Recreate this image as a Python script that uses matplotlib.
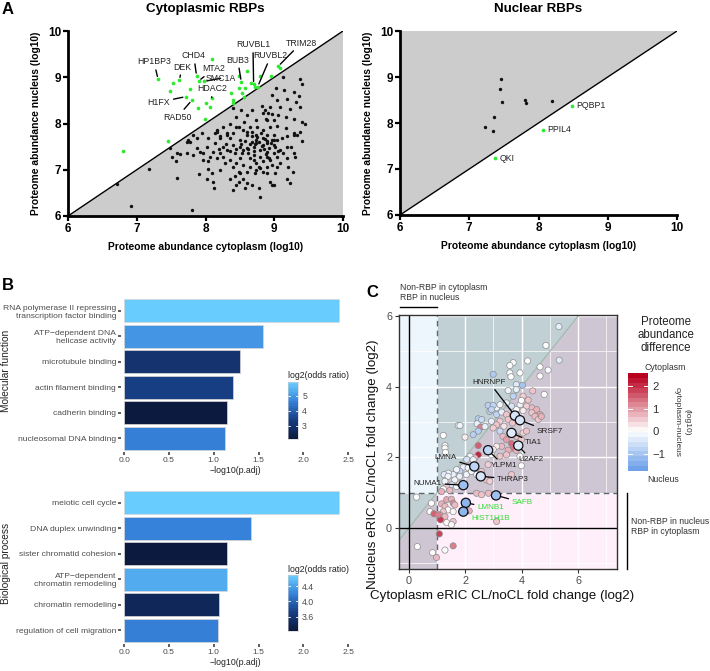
import numpy as np
import matplotlib
matplotlib.use("Agg")
import matplotlib.pyplot as plt
from matplotlib.colors import LinearSegmentedColormap, Normalize
from matplotlib.patches import Polygon, Rectangle
from matplotlib.lines import Line2D

plt.rcParams['font.family'] = ['Liberation Sans', 'DejaVu Sans']

# ------------------------------------------------------------------ data
# Panel A - cytoplasmic RBPs (log10 abundance): cytoplasm x, nucleus y
cyto_x = [9.45, 9.28, 9.33, 9.40, 9.18, 9.25, 9.13, 9.04, 9.18, 9.30, 9.08, 9.01, 8.89, 8.96, 8.84,
          8.74, 8.67, 8.60, 8.55, 8.45, 8.40, 8.50, 8.36, 8.31, 8.21, 8.16, 8.14, 8.26, 8.40, 8.50,
          8.60, 8.70, 8.79, 8.89, 8.99, 8.94, 8.84, 8.74, 8.65, 8.55, 8.45, 8.36, 8.26, 8.21, 8.11,
          8.07, 7.97, 8.02, 7.92, 7.87, 7.82, 7.75, 7.77, 7.63, 7.58, 7.57, 7.48, 7.18, 7.58, 7.90,
          8.04, 8.09, 8.02, 8.11, 8.13, 8.36, 8.43, 8.50, 8.48, 8.45, 8.40, 8.55, 8.60, 8.57, 8.67,
          8.72, 8.74, 8.79, 8.89, 8.96, 9.04, 9.01, 8.89, 8.84, 8.78, 8.79, 8.94, 8.96, 8.99, 9.18,
          9.23, 9.27, 6.92, 7.80, 7.82, 7.95, 7.97, 8.04, 8.16, 8.28, 8.31, 8.43, 8.53, 8.62, 8.70,
          8.79, 8.89, 8.99, 8.84, 8.74, 8.67, 9.04, 9.11, 9.18, 9.28, 9.20, 9.08, 8.70, 8.40, 8.21,
          7.73, 7.73, 6.71, 7.51,
          9.13, 9.37, 9.41, 9.02, 9.14, 9.28, 8.96, 9.04, 9.19, 9.32, 9.37, 9.36, 9.08, 9.23, 8.94,
          8.82, 8.84, 8.96, 9.06, 9.17, 9.28, 9.40, 8.90, 8.74, 8.60, 8.67, 8.51, 8.40, 8.45, 8.56,
          8.65, 8.75, 8.84, 8.94, 9.04, 9.17, 9.28, 9.37, 8.60, 8.48, 8.36, 8.26, 8.16, 8.14, 8.31,
          8.21, 8.04, 7.87, 8.74, 8.89, 8.99, 8.88, 8.91, 8.87, 8.99,
          8.78, 8.82, 8.86, 8.92, 8.70, 8.65, 8.75, 8.80, 8.90, 8.58, 8.62, 8.88, 8.95, 8.85, 8.72,
          8.68, 8.52, 8.55, 9.05, 9.00, 8.45, 8.35, 8.30, 8.20, 8.92, 8.65, 8.50, 8.78, 8.60, 8.48]
cyto_y = [7.98, 7.75, 7.75, 7.62, 7.50, 7.50, 7.36, 7.28, 7.25, 7.27, 7.43, 7.50, 7.57, 7.64, 7.68,
          7.64, 7.72, 7.75, 7.86, 7.93, 7.79, 7.64, 7.68, 7.79, 7.72, 7.82, 7.57, 7.50, 7.54, 7.50,
          7.46, 7.50, 7.43, 7.39, 7.36, 7.21, 7.18, 7.14, 7.07, 7.10, 7.14, 7.21, 7.28, 7.36, 7.39,
          7.28, 7.36, 7.50, 7.39, 7.46, 7.32, 7.64, 7.61, 7.34, 7.36, 7.18, 7.46, 7.02, 6.83, 6.91,
          7.02, 6.92, 6.79, 6.73, 6.60, 6.81, 6.87, 6.92, 6.74, 6.67, 6.56, 6.81, 6.71, 6.60, 6.67,
          6.92, 7.00, 7.03, 7.07, 7.10, 7.07, 6.92, 6.92, 6.96, 6.60, 6.42, 6.74, 6.67, 6.67, 6.79,
          6.71, 6.96, 6.22, 6.13, 7.75, 7.79, 7.21, 7.18, 7.25, 7.14, 7.43, 7.36, 7.36, 7.36, 7.32,
          7.28, 7.28, 7.54, 7.54, 7.57, 7.61, 7.64, 7.68, 7.72, 7.36, 7.07, 7.14, 7.21, 7.07, 7.00,
          7.36, 7.61, 6.69, 7.27,
          9.00, 8.96, 8.85, 8.76, 8.73, 8.69, 8.62, 8.51, 8.54, 8.47, 8.35, 8.59, 8.35, 8.31, 8.35,
          8.38, 8.23, 8.20, 8.18, 8.15, 8.09, 8.04, 8.08, 8.08, 8.18, 8.29, 8.29, 8.33, 8.15, 8.04,
          7.93, 7.92, 7.86, 7.93, 7.95, 7.90, 7.79, 7.82, 7.82, 7.93, 8.00, 7.93, 7.86, 7.79, 7.75,
          7.68, 7.68, 7.68, 7.75, 7.75, 7.75, 8.09, 8.23, 8.29, 8.08,
          7.60, 7.52, 7.66, 7.48, 7.40, 7.55, 7.70, 7.80, 7.62, 7.62, 7.45, 7.35, 7.58, 7.45, 7.55,
          7.82, 7.55, 7.42, 7.40, 7.65, 7.45, 7.40, 7.55, 7.45, 7.25, 7.25, 7.25, 7.05, 6.95, 6.95]

cyto_green_x = [7.31, 7.52, 7.62, 7.49, 7.77, 7.71, 7.80, 7.87, 8.09, 7.90, 7.98, 7.89, 8.00, 8.06,
                8.09, 7.99, 8.52, 8.48, 8.61, 8.37, 8.49, 8.57, 8.53, 8.40, 8.56, 8.40, 8.70, 8.66,
                8.76, 8.72, 8.79, 8.95, 9.06, 9.08, 6.80, 7.46]
cyto_green_y = [8.96, 8.87, 8.94, 8.70, 8.75, 8.58, 8.50, 9.03, 9.39, 8.92, 8.91, 8.34, 8.44, 8.36,
                8.56, 8.09, 8.90, 9.03, 9.13, 8.65, 8.76, 8.77, 8.67, 8.51, 8.58, 8.44, 8.85, 8.87,
                8.80, 8.80, 9.03, 9.03, 9.24, 9.19, 7.41, 7.62]

cyto_label_names = ['HP1BP3', 'DEK', 'CHD4', 'MTA2', 'SMC1A', 'HDAC2', 'H1FX', 'RAD50',
                    'BUB3', 'RUVBL1', 'RUVBL2', 'TRIM28']
cyto_label_px = [7.31, 7.62, 7.87, 7.90, 7.98, 8.09, 7.71, 7.80, 8.52, 8.70, 8.76, 9.06]
cyto_label_py = [8.96, 8.94, 9.03, 8.92, 8.91, 8.56, 8.58, 8.50, 8.90, 8.85, 8.80, 9.24]
cyto_label_tx = [7.25, 7.66, 7.83, 8.12, 8.23, 8.09, 7.32, 7.59, 8.47, 8.69, 8.95, 9.39]
cyto_label_ty = [9.33, 9.22, 9.46, 9.18, 8.98, 8.75, 8.46, 8.14, 9.37, 9.70, 9.46, 9.74]

# Panel A - nuclear RBPs
nuc_x = [7.46, 7.45, 7.48, 7.36, 7.23, 7.34, 7.81, 7.82, 8.19]
nuc_y = [8.95, 8.74, 8.45, 8.13, 7.91, 7.83, 8.51, 8.43, 8.47]
nuc_green_names = ['QKI', 'PPIL4', 'PQBP1']
nuc_green_x = [7.37, 8.06, 8.48]
nuc_green_y = [7.23, 7.85, 8.38]

# Panel B - enrichment
mf_terms = ["RNA polymerase II repressing\ntranscription factor binding",
            "ATP\u2212dependent DNA\nhelicase activity",
            "microtubule binding", "actin filament binding",
            "cadherin binding", "nucleosomal DNA binding"]
mf_p = [2.40, 1.55, 1.29, 1.22, 1.15, 1.12]
mf_or = [5.93, 5.00, 3.00, 3.35, 2.13, 4.60]
mf_or_range = (2.13, 5.93)
mf_ticks = [3, 4, 5]
mf_ticklabels = ['3', '4', '5']

bp_terms = ["meiotic cell cycle", "DNA duplex unwinding", "sister chromatid cohesion",
            "ATP\u2212dependent\nchromatin remodeling", "chromatin remodeling",
            "regulation of cell migration"]
bp_p = [2.40, 1.42, 1.15, 1.15, 1.06, 1.05]
bp_or = [4.69, 4.20, 3.23, 4.47, 3.41, 4.18]
bp_or_range = (3.23, 4.69)
bp_ticks = [3.6, 4.0, 4.4]
bp_ticklabels = ['3.6', '4.0', '4.4']

# Panel C - eRIC fold changes
c_x = [5.32, 4.86, 5.33, 4.65, 4.94, 4.65, 4.21, 3.70, 3.58, 3.94, 3.58, 3.62, 2.99, 4.03, 3.81,
       4.39, 4.80, 3.81, 3.52, 3.70, 4.05, 4.23, 4.36, 4.53, 4.65, 4.36, 4.47, 4.59, 4.70, 4.17,
       4.05, 3.94, 3.99, 3.81, 3.64, 3.11, 2.81, 2.99, 3.23, 3.46, 2.87, 3.11, 3.29, 3.46, 2.46,
       2.58, 2.42, 2.54, 2.46, 2.70, 2.93, 3.23, 3.37, 3.52, 3.67, 1.75, 1.81, 1.99, 1.22, 1.28,
       1.28, 3.11, 2.99, 3.23, 3.34, 3.46, 3.64, 3.81, 3.99, 4.05, 4.17, 3.70, 3.81, 3.52, 3.46,
       3.29, 3.11, 2.99, 2.93, 3.23, 2.46, 2.34, 2.17, 2.05, 2.17, 1.93, 1.81, 1.69, 1.57, 1.40,
       2.81, 3.94, 3.99, 3.64,
       0.80, 0.75, 1.16, 1.34, 1.51, 1.57, 1.63, 1.28, 1.39, 1.22, 1.57, 1.10, 1.28, 1.12, 1.34,
       1.57, 1.51, 0.89, 1.04, 1.08, 0.84, 1.28, 1.57, 0.98, 2.40, 2.58, 2.82, 3.11, 2.14, 1.99,
       0.27, 0.30,
       1.25, 1.39, 1.63, 1.51, 1.69, 1.81, 1.34, 1.22, 1.45, 1.16, 2.16, 2.28, 2.10, 2.04, 2.40,
       2.58, 2.75, 2.87, 2.46, 1.30, 2.28, 2.22, 1.80, 1.28, 2.93]
c_y = [5.70, 5.17, 4.75, 4.56, 4.47, 4.30, 4.73, 4.68, 4.60, 4.39, 4.39, 4.28, 4.35, 4.04, 4.06,
       3.88, 3.78, 3.92, 3.89, 3.73, 3.73, 3.62, 3.40, 3.35, 3.21, 3.26, 3.16, 3.07, 3.16, 3.45,
       3.32, 3.49, 3.61, 3.35, 3.45, 3.40, 3.47, 3.47, 3.49, 3.54, 3.30, 3.21, 3.28, 3.21, 3.09,
       3.07, 2.95, 2.85, 2.74, 2.87, 3.02, 3.02, 2.88, 3.07, 2.97, 2.90, 2.90, 2.57, 2.62, 2.33,
       2.26, 2.92, 2.83, 2.74, 2.59, 2.50, 2.39, 2.59, 2.50, 2.69, 2.74, 2.26, 2.20, 2.20, 2.07,
       2.31, 2.31, 2.22, 2.07, 2.03, 2.07, 1.98, 2.03, 1.94, 1.74, 1.72, 1.60, 1.65, 1.51, 1.55,
       1.79, 2.03, 1.76, 1.51,
       0.70, 0.46, 0.68, 0.80, 0.81, 0.70, 0.65, 0.61, 0.51, 0.46, 0.46, 0.37, 0.32, 0.23, 0.15,
       0.18, 0.09, 0.40, 0.37, -0.17, -0.70, -0.63, -0.51, -0.84, 0.98, 0.94, 0.98, 0.18, 0.48, 0.65,
       0.87, -0.53,
       1.51, 1.46, 1.36, 1.22, 1.17, 1.25, 1.17, 1.10, 1.06, 1.03, 1.74, 1.93, 1.70, 1.51, 1.51,
       1.60, 1.36, 1.32, 2.33, 2.14, 2.64, 1.60, 1.46, 1.32, 3.35]
c_diff = [-0.3, 0.0, -0.4, 0.0, -0.1, 0.0, 0.0, -0.1, 0.0, 0.0, -0.1, 0.0, -1.0, -1.1, -0.4,
          0.6, 0.0, -0.3, -0.2, -0.8, 0.5, 0.6, 0.7, 0.8, 0.9, 0.6, 0.7, 0.6, 0.8, 0.5,
          0.2, -0.2, 0.0, 0.0, -0.5, -0.2, -0.9, -0.8, -0.2, -0.3, -0.9, -0.8, -0.3, 0.6, -0.9,
          -0.7, -0.3, 1.3, -0.9, -0.3, -0.3, 0.5, 0.3, 0.6, 0.6, -0.1, -0.2, 0.2, 0.0, 0.0,
          0.0, 0.6, 0.5, -0.7, 0.7, 1.0, 1.5, 0.7, 0.6, 0.5, 0.6, 1.4, 0.7, 0.8, 0.6,
          0.7, 0.2, 0.2, 0.0, 0.6, 2.2, 0.6, -0.2, -0.5, -0.2, -0.3, -0.8, -0.2, -0.3, -0.2,
          0.5, 0.0, 0.0, 0.6,
          0.0, 0.0, 0.8, 0.9, 0.8, 1.2, 0.7, 0.7, 0.0, 0.6, 0.1, 0.8, 0.7, 2.0, 0.1,
          0.6, 0.1, 1.6, 1.3, 1.9, 0.0, 0.0, 1.3, 0.7, 0.7, 0.6, 0.7, 0.6, 0.8, 0.7,
          0.0, 0.0,
          -0.4, -0.2, -0.2, -0.5, -0.1, -0.2, 0.6, 0.0, 0.7, 0.8, -0.9, -0.2, -0.2, -0.2, -0.1,
          0.6, 0.6, 0.5, 1.6, 0.0, -0.9, -0.2, -0.3, -0.2, -0.8]

hl_names = ['HNRNPF', 'SRSF7', 'TIA1', 'U2AF2', 'YLPM1', 'LMNA', 'THRAP3', 'NUMA1',
            'SAFB', 'LMNB1', 'HIST1H1B']
hl_x = [3.76, 3.94, 3.64, 3.88, 2.81, 2.32, 2.55, 1.93, 3.09, 2.02, 1.93]
hl_y = [3.18, 3.05, 2.69, 2.33, 2.20, 1.74, 1.46, 1.21, 0.92, 0.71, 0.46]
hl_diff = [-0.5, -0.5, -0.4, -0.4, -0.8, -0.8, -0.5, -1.2, -1.2, -1.4, -1.4]
hl_tx = [2.86, 5.01, 4.43, 4.33, 3.37, 1.29, 3.70, 0.67, 4.03, 2.90, 2.91]
hl_ty = [4.11, 2.72, 2.41, 1.93, 1.76, 1.98, 1.38, 1.27, 0.72, 0.57, 0.26]
hl_green = [False, False, False, False, False, False, False, False, True, True, True]

diff_cb_range = (-1.76, 2.58)
diff_ticks = [2, 1, 0, -1]
diff_ticklabels = ['2', '1', '0', '\u22121']

# ------------------------------------------------------------------ figure
W, H = 710, 671
fig = plt.figure(figsize=(W / 100, H / 100), dpi=100)


def px_axes(l, t, r, b):
    return fig.add_axes([l / W, 1 - b / H, (r - l) / W, (b - t) / H])


def fx(x):
    return x / W


def fy(y):
    return 1 - y / H


GREEN = '#2EEA2E'

# ---------------- Panel A
def style_a(ax):
    ax.set_xlim(6, 10)
    ax.set_ylim(6, 10)
    for s in ['top', 'right']:
        ax.spines[s].set_visible(False)
    for s in ['left', 'bottom']:
        ax.spines[s].set_linewidth(2.0)
    ax.set_xticks([6, 7, 8, 9, 10])
    ax.set_yticks([6, 7, 8, 9, 10])
    ax.tick_params(direction='out', length=3.5, width=1.6, labelsize=8.5, pad=1.5)
    for t in ax.get_xticklabels() + ax.get_yticklabels():
        t.set_fontweight('bold')
    ax.set_xlabel('Proteome abundance cytoplasm (log10)', fontsize=7.4, fontweight='bold', labelpad=5)
    ax.set_ylabel('Proteome abundance nucleus (log10)', fontsize=7.4, fontweight='bold', labelpad=5)


axA1 = px_axes(68, 31, 343, 216)
axA1.add_patch(Polygon([(6, 6), (10, 10), (10, 6)], closed=True, facecolor='#CCCCCC',
                       edgecolor='none', zorder=0))
axA1.plot([6, 10], [6, 10], color='black', lw=1.0, zorder=1)
axA1.scatter(cyto_x, cyto_y, s=6, color='#111111', linewidths=0, zorder=3)
axA1.scatter(cyto_green_x, cyto_green_y, s=7, color=GREEN, linewidths=0, zorder=3)
for n, px_, py_, tx, ty in zip(cyto_label_names, cyto_label_px, cyto_label_py,
                               cyto_label_tx, cyto_label_ty):
    axA1.annotate(n, xy=(px_, py_), xytext=(tx, ty), ha='center', va='center',
                  fontsize=6.3, color='#222222', zorder=4,
                  arrowprops=dict(arrowstyle='-', color='black', lw=1.0, shrinkA=0.5, shrinkB=2))
style_a(axA1)
axA1.set_title('Cytoplasmic RBPs', fontsize=9.6, fontweight='bold', pad=14)

axA2 = px_axes(400, 31, 677, 215)
axA2.add_patch(Polygon([(6, 6), (6, 10), (10, 10)], closed=True, facecolor='#CCCCCC',
                       edgecolor='none', zorder=0))
axA2.plot([6, 10], [6, 10], color='black', lw=1.0, zorder=1)
axA2.scatter(nuc_x, nuc_y, s=6, color='#111111', linewidths=0, zorder=3)
axA2.scatter(nuc_green_x, nuc_green_y, s=7, color=GREEN, linewidths=0, zorder=3)
for n, gx, gy in zip(nuc_green_names, nuc_green_x, nuc_green_y):
    axA2.text(gx + 0.07, gy, n, ha='left', va='center', fontsize=6.3, color='#222222')
style_a(axA2)
axA2.set_title('Nuclear RBPs', fontsize=9.6, fontweight='bold', pad=14)

fig.text(fx(2), fy(10), 'A', fontsize=12, fontweight='bold', va='center', ha='left')
fig.text(fx(2), fy(286), 'B', fontsize=12, fontweight='bold', va='center', ha='left')
fig.text(fx(366), fy(293), 'C', fontsize=12, fontweight='bold', va='center', ha='left')

# ---------------- Panel B
cmap_or = LinearSegmentedColormap.from_list('or', ['#0C1A40', '#173E85', '#3682DA', '#68CCFF'])


def draw_bars(ax, terms, pvals, ors, rng):
    norm = Normalize(*rng)
    pos = np.arange(len(terms))[::-1] + 1
    ax.barh(pos, pvals, height=0.9, color=cmap_or(norm(np.array(ors))),
            edgecolor='#d8d8d8', linewidth=0.5)
    ax.set_yticks(pos)
    ax.set_yticklabels(terms)
    ax.set_ylim(0.47, len(terms) + 0.53)
    ax.set_xlim(-0.035, 2.52)
    ax.set_xticks([0, 0.5, 1.0, 1.5, 2.0, 2.5])
    ax.set_xticklabels(['0.0', '0.5', '1.0', '1.5', '2.0', '2.5'])
    for s in ax.spines.values():
        s.set_visible(False)
    ax.tick_params(length=2, width=1.1, color='#333333', labelsize=6.1,
                   labelcolor='#4D4D4D', pad=1.5)
    ax.set_xlabel('\u2212log10(p.adj)', fontsize=6.3, color='#222222', labelpad=1.5)


def bar_colorbar(l, t, r, b, rng, ticks, ticklabels):
    cax = px_axes(l, t, r, b)
    vals = np.linspace(rng[0], rng[1], 24)
    cax.imshow(vals.reshape(-1, 1), cmap=cmap_or, norm=Normalize(*rng), aspect='auto',
               origin='lower', extent=[0, 1, rng[0], rng[1]], interpolation='nearest')
    cax.set_xlim(0, 1)
    cax.set_ylim(*rng)
    cax.set_xticks([])
    cax.yaxis.tick_right()
    cax.set_yticks(ticks)
    cax.set_yticklabels(ticklabels)
    cax.tick_params(axis='y', length=0, labelsize=6.3, labelcolor='#4D4D4D', pad=3)
    for v in ticks:
        cax.plot([0, 0.2], [v, v], color='white', lw=0.6)
        cax.plot([0.8, 1], [v, v], color='white', lw=0.6)
    for s in cax.spines.values():
        s.set_edgecolor('#cccccc')
        s.set_linewidth(0.4)
    fig.text(fx(l), fy(t - 6), 'log2(odds ratio)', fontsize=6.3, color='#222222',
             ha='left', va='center')


axB1 = px_axes(121, 297, 350, 452)
draw_bars(axB1, mf_terms, mf_p, mf_or, mf_or_range)
bar_colorbar(288, 382, 298, 439, mf_or_range, mf_ticks, mf_ticklabels)
fig.text(fx(6), fy(371), 'Molecular function', rotation=90, fontsize=7.3, color='#222222',
         ha='center', va='center')

axB2 = px_axes(121, 489, 350, 644)
draw_bars(axB2, bp_terms, bp_p, bp_or, bp_or_range)
bar_colorbar(288, 575, 298, 631, bp_or_range, bp_ticks, bp_ticklabels)
fig.text(fx(6), fy(563), 'Biological process', rotation=90, fontsize=7.3, color='#222222',
         ha='center', va='center')

# ---------------- Panel C
cmap_diff = LinearSegmentedColormap.from_list('diff', ['#2F78E0', '#FFFFFF', '#B8001F'])
norm_diff = Normalize(-2.58, 2.58)

axC = px_axes(399, 315, 617, 569)
xl, xr, yb, yt = -0.35, 7.38, -1.165, 6.03
axC.set_xlim(xl, xr)
axC.set_ylim(yb, yt)
axC.add_patch(Rectangle((xl, yb), xr - xl, yt - yb, facecolor='#CFC6D3', edgecolor='none', zorder=0))
axC.add_patch(Polygon([(xl, xl), (yt, yt), (xl, yt)], closed=True, facecolor='#C1D0D4',
                      edgecolor='none', zorder=0.1))
axC.add_patch(Rectangle((xl, 1), 1 - xl, yt - 1, facecolor='#EDF5FD', edgecolor='none', zorder=0.2))
axC.add_patch(Rectangle((1, yb), xr - 1, 1 - yb, facecolor='#FEEFFB', edgecolor='none', zorder=0.2))
for v in [0, 2, 4, 6]:
    axC.axvline(v, color='white', lw=1.0, zorder=0.5)
    axC.axhline(v, color='white', lw=1.0, zorder=0.5)
for v in [1, 3, 5, 7]:
    axC.axvline(v, color='white', lw=0.5, zorder=0.5)
for v in [-1, 1, 3, 5]:
    axC.axhline(v, color='white', lw=0.5, zorder=0.5)
axC.plot([xl, yt], [xl, yt], color='#A3BBAE', lw=0.9, zorder=0.6)
axC.axvline(1, color='#5E6670', lw=1.0, ls=(0, (4, 3)), zorder=0.8)
axC.axhline(1, color='#5E6670', lw=1.0, ls=(0, (4, 3)), zorder=0.8)
axC.axvline(0, color='black', lw=1.0, zorder=0.9)
axC.axhline(0, color='black', lw=1.0, zorder=0.9)

axC.scatter(c_x, c_y, c=c_diff, cmap=cmap_diff, norm=norm_diff, s=20,
            edgecolors='#8C8C8C', linewidths=0.5, zorder=2)
axC.scatter(hl_x, hl_y, c=hl_diff, cmap=cmap_diff, norm=norm_diff, s=44,
            edgecolors='#111111', linewidths=0.9, zorder=3)
for n, hx, hy, tx, ty, g in zip(hl_names, hl_x, hl_y, hl_tx, hl_ty, hl_green):
    axC.annotate(n, xy=(hx, hy), xytext=(tx, ty), ha='center', va='center', fontsize=5.9,
                 color=('#33DD33' if g else '#222222'), zorder=4,
                 arrowprops=dict(arrowstyle='-', color='black', lw=0.9, shrinkA=0.5, shrinkB=3.5))

axC.set_xticks([0, 2, 4, 6])
axC.set_yticks([0, 2, 4, 6])
axC.tick_params(length=3, width=0.8, color='#333333', labelsize=7.8, labelcolor='#4D4D4D', pad=2)
for s in axC.spines.values():
    s.set_edgecolor('#333333')
    s.set_linewidth(1.0)

fig.text(fx(502), fy(596), 'Cytoplasm eRIC CL/noCL fold change (log2)', fontsize=9.6,
         ha='center', va='center', color='#111111')
fig.text(fx(373), fy(464), 'Nucleus eRIC CL/noCL fold change (log2)', fontsize=9.6,
         rotation=90, ha='center', va='center', color='#111111')

fig.text(fx(400), fy(287), 'Non-RBP in cytoplasm', fontsize=6.2, color='#333333', ha='left', va='center')
fig.text(fx(400), fy(297), 'RBP in nucleus', fontsize=6.2, color='#333333', ha='left', va='center')
fig.add_artist(Line2D([fx(400), fx(437)], [fy(307), fy(307)], color='black', lw=1.0))
fig.add_artist(Line2D([fx(627), fx(627)], [fy(493), fy(569)], color='black', lw=1.0))
fig.text(fx(631), fy(522), 'Non-RBP in nucleus', fontsize=6.2, color='#333333', ha='left', va='center')
fig.text(fx(631), fy(532), 'RBP in cytoplasm', fontsize=6.2, color='#333333', ha='left', va='center')

# colorbar C
caxC = px_axes(628, 373, 648, 471)
vals = np.linspace(diff_cb_range[0], diff_cb_range[1], 20)
caxC.imshow(vals.reshape(-1, 1), cmap=cmap_diff, norm=norm_diff, aspect='auto', origin='lower',
            extent=[0, 1, diff_cb_range[0], diff_cb_range[1]], interpolation='nearest')
caxC.set_xlim(0, 1)
caxC.set_ylim(*diff_cb_range)
caxC.set_xticks([])
caxC.yaxis.tick_right()
caxC.set_yticks(diff_ticks)
caxC.set_yticklabels(diff_ticklabels)
caxC.tick_params(axis='y', length=0, labelsize=8.2, labelcolor='#333333', pad=3)
for v in diff_ticks:
    caxC.plot([0, 0.2], [v, v], color='white', lw=0.7)
    caxC.plot([0.8, 1], [v, v], color='white', lw=0.7)
for s in caxC.spines.values():
    s.set_visible(False)

for line, yy in zip(['Proteome', 'abundance', 'difference'], [322, 335, 348]):
    fig.text(fx(666), fy(yy), line, fontsize=8.3, color='#222222', ha='center', va='center')
fig.text(fx(665), fy(368), 'Cytoplasm', fontsize=6.3, color='#333333', ha='center', va='center')
fig.text(fx(663), fy(480), 'Nucleus', fontsize=6.3, color='#333333', ha='center', va='center')
fig.text(fx(677), fy(422), 'cytoplasm-nucleus', fontsize=6.0, color='#333333', rotation=270,
         ha='center', va='center')
fig.text(fx(687), fy(422), '(log10)', fontsize=6.0, color='#333333', rotation=270,
         ha='center', va='center')

fig.savefig('out.png', dpi=100)
